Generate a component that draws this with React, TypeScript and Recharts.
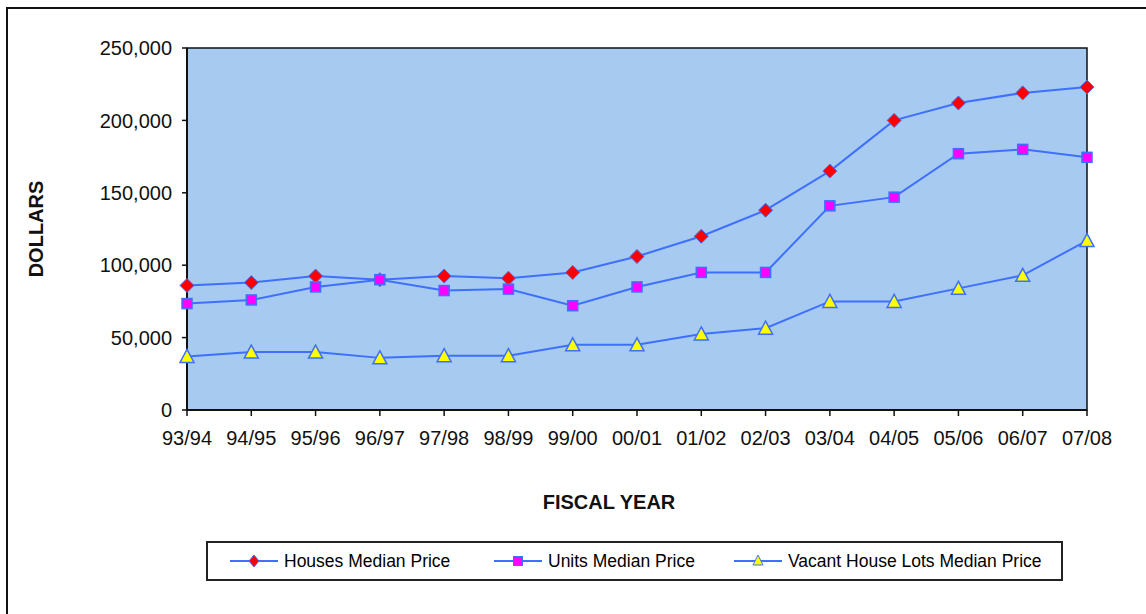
import React from 'react';
import {
  LineChart,
  Line,
  XAxis,
  YAxis,
  Legend,
  ReferenceArea,
} from 'recharts';

const categories = ['93/94', '94/95', '95/96', '96/97', '97/98', '98/99', '99/00', '00/01', '01/02', '02/03', '03/04', '04/05', '05/06', '06/07', '07/08'];
const housesMedian = [86000, 88000, 92500, 90000, 92500, 91000, 95000, 106000, 120000, 138000, 165000, 200000, 212000, 219000, 223000];
const unitsMedian = [73500, 76000, 85000, 90000, 82500, 83500, 72000, 85000, 95000, 95000, 141000, 147000, 177000, 180000, 174500];
const vacantMedian = [37000, 40000, 40000, 36000, 37500, 37500, 45000, 45000, 52500, 56500, 75000, 75000, 84000, 93000, 117000];
const yTicks = [0, 50000, 100000, 150000, 200000, 250000];

const seriesNames = {
  houses: 'Houses Median Price',
  units: 'Units Median Price',
  vacant: 'Vacant House Lots Median Price',
};

const data = categories.map((c, i) => ({
  year: c,
  houses: housesMedian[i],
  units: unitsMedian[i],
  vacant: vacantMedian[i],
}));

const LINE = '#3F6FFF';
const FONT = '"Liberation Sans", Arial, sans-serif';

const DiamondDot = (props: any) => {
  const { cx, cy, index } = props;
  if (cx == null || cy == null) return null;
  const r = 7;
  return (
    <path
      key={`d-${index}`}
      d={`M${cx},${cy - r}L${cx + r},${cy}L${cx},${cy + r}L${cx - r},${cy}Z`}
      fill="#FF0000"
      stroke={LINE}
      strokeWidth={1}
    />
  );
};

const SquareDot = (props: any) => {
  const { cx, cy, index } = props;
  if (cx == null || cy == null) return null;
  const s = 5;
  return (
    <rect
      key={`s-${index}`}
      x={cx - s}
      y={cy - s}
      width={s * 2}
      height={s * 2}
      fill="#FF00FF"
      stroke={LINE}
      strokeWidth={1.5}
    />
  );
};

const TriangleDot = (props: any) => {
  const { cx, cy, index } = props;
  if (cx == null || cy == null) return null;
  return (
    <path
      key={`t-${index}`}
      d={`M${cx},${cy - 7}L${cx + 7},${cy + 6}L${cx - 7},${cy + 6}Z`}
      fill="#FFFF00"
      stroke={LINE}
      strokeWidth={1.5}
    />
  );
};

const legendMarker = (key: string) => {
  if (key === 'houses')
    return <path d="M24,4L29,10L24,16L19,10Z" fill="#FF0000" stroke={LINE} strokeWidth={1} />;
  if (key === 'units')
    return <rect x={19.5} y={5.5} width={9} height={9} fill="#FF00FF" stroke={LINE} strokeWidth={1} />;
  return <path d="M24,4L29,14L19,14Z" fill="#FFFF00" stroke={LINE} strokeWidth={1} />;
};

const legendOffsets = [22, 286, 526];

const CustomLegend = (props: any) => {
  const payload = props.payload || [];
  return (
    <div
      style={{
        position: 'relative',
        width: 853,
        height: 36,
        border: '2px solid #222',
        background: '#fff',
        fontFamily: FONT,
        fontSize: 17.5,
        color: '#000',
      }}
    >
      {payload.map((p: any, i: number) => {
        const key = String(p.dataKey);
        return (
          <div
            key={key}
            style={{
              position: 'absolute',
              left: legendOffsets[i],
              top: 8,
              display: 'flex',
              alignItems: 'center',
              whiteSpace: 'nowrap',
            }}
          >
            <svg width={48} height={20} style={{ display: 'block' }}>
              <line x1={0} y1={10} x2={48} y2={10} stroke={LINE} strokeWidth={2} />
              {legendMarker(key)}
            </svg>
            <span style={{ marginLeft: 6, lineHeight: '20px' }}>{p.value}</span>
          </div>
        );
      })}
    </div>
  );
};

const formatTick = (v: number) => (v === 0 ? '0' : v.toLocaleString('en-US'));

export default function App() {
  return (
    <div
      style={{
        position: 'absolute',
        left: 0,
        top: 0,
        width: 1146,
        height: 614,
        overflow: 'hidden',
        background: '#fff',
        fontFamily: FONT,
      }}
    >
      <div
        style={{
          position: 'absolute',
          left: 6,
          top: 7,
          width: 1300,
          height: 800,
          borderLeft: '2px solid #111',
          borderTop: '2px solid #111',
        }}
      />
      <div style={{ position: 'absolute', left: 0, top: 0 }}>
        <LineChart
          width={1146}
          height={614}
          data={data}
          margin={{ top: 48, right: 59, left: 17, bottom: 144 }}
        >
          <ReferenceArea
            x1={categories[0]}
            x2={categories[categories.length - 1]}
            y1={0}
            y2={250000}
            fill="#A6CAF0"
            fillOpacity={1}
            stroke="#111"
            strokeWidth={1.5}
            ifOverflow="visible"
          />
          <XAxis
            dataKey="year"
            scale="point"
            padding={{ left: 0, right: 0 }}
            height={60}
            interval={0}
            axisLine={{ stroke: '#111', strokeWidth: 2 }}
            tickLine={{ stroke: '#111', strokeWidth: 1.5 }}
            tickSize={6}
            tickMargin={15}
            tick={{ fill: '#111', fontSize: 20, fontFamily: FONT }}
            label={{
              value: 'FISCAL YEAR',
              position: 'center',
              dx: -28,
              dy: 62,
              style: { fontWeight: 'bold', fontSize: 20, fill: '#111', fontFamily: FONT },
            }}
          />
          <YAxis
            type="number"
            domain={[0, 250000]}
            ticks={yTicks}
            width={170}
            interval={0}
            tickFormatter={formatTick}
            axisLine={{ stroke: '#111', strokeWidth: 2 }}
            tickLine={{ stroke: '#111', strokeWidth: 1.5 }}
            tickSize={5}
            tickMargin={10}
            tick={{ fill: '#111', fontSize: 20, fontFamily: FONT }}
            label={{
              value: 'DOLLARS',
              angle: -90,
              position: 'center',
              dx: -66,
              style: { fontWeight: 'bold', fontSize: 20, fill: '#111', fontFamily: FONT, textAnchor: 'middle' },
            }}
          />
          <Legend
            layout="horizontal"
            verticalAlign="middle"
            align="center"
            content={<CustomLegend />}
            wrapperStyle={{ position: 'absolute', left: 206, top: 541, width: 857, height: 40 }}
          />
          <Line
            type="linear"
            dataKey="houses"
            name={seriesNames.houses}
            stroke={LINE}
            strokeWidth={2}
            dot={DiamondDot}
            activeDot={false}
            isAnimationActive={false}
          />
          <Line
            type="linear"
            dataKey="units"
            name={seriesNames.units}
            stroke={LINE}
            strokeWidth={2}
            dot={SquareDot}
            activeDot={false}
            isAnimationActive={false}
          />
          <Line
            type="linear"
            dataKey="vacant"
            name={seriesNames.vacant}
            stroke={LINE}
            strokeWidth={2}
            dot={TriangleDot}
            activeDot={false}
            isAnimationActive={false}
          />
        </LineChart>
      </div>
    </div>
  );
}
